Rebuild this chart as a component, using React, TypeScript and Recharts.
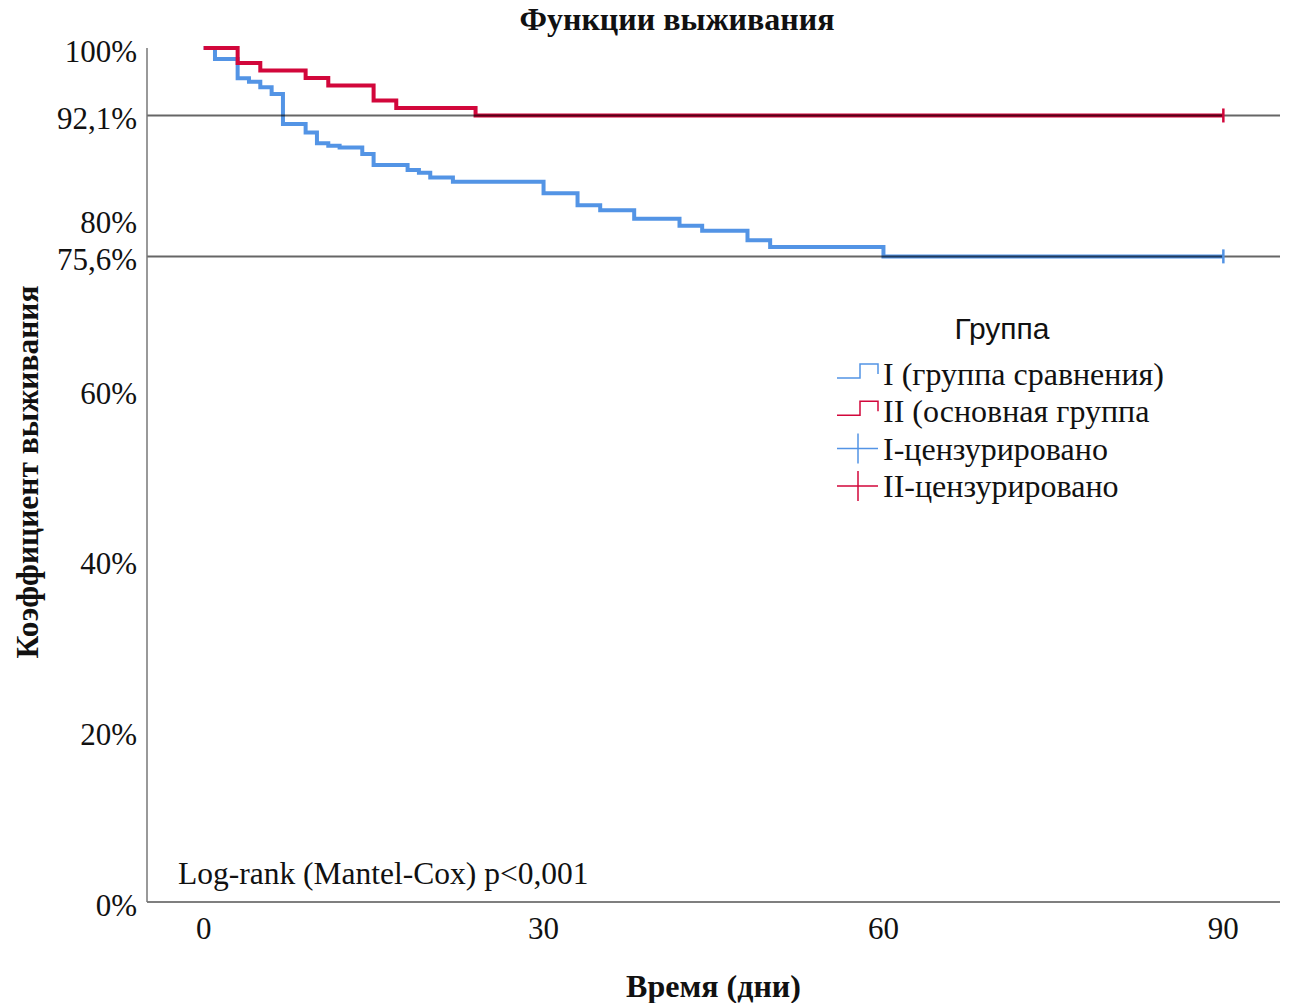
import {
  ComposedChart,
  Line,
  XAxis,
  YAxis,
  ReferenceLine,
  Legend,
} from "recharts";

// Kaplan–Meier steps, days vs. survival %
const daysI = [0, 1, 3, 4, 5, 6, 7, 9, 10, 11, 12, 14, 15, 18, 19, 20, 22, 30, 33, 35, 38, 42, 44, 48, 50, 60, 90];
const survI = [100, 98.7, 96.45, 96.05, 95.4, 94.6, 91.1, 90.1, 88.85, 88.55, 88.35, 87.6, 86.3, 85.7, 85.4, 84.85, 84.35, 83.0, 81.6, 81.0, 80.0, 79.2, 78.6, 77.5, 76.7, 75.6, 75.6];
const censorI = [90];

const daysII = [0, 3, 5, 9, 11, 15, 17, 24, 90];
const survII = [100, 98.25, 97.37, 96.49, 95.61, 93.86, 92.98, 92.1, 92.1];
const censorII = [90];

const finalRates = [92.1, 75.6];
const yTicks = [0, 20, 40, 60, 75.6, 80, 92.1, 100];
const xTicks = [0, 30, 60, 90];

const BLUE = "#5394e5";
const RED = "#d2073b";
const SERIF = "'Liberation Serif', 'Times New Roman', serif";
const SANS = "'Liberation Sans', Arial, sans-serif";

const toRows = (days: number[], surv: number[], censored: number[]) =>
  days.map((t, i) => ({ t, s: surv[i], c: censored.includes(t) && i === days.length - 1 }));

const groupI = toRows(daysI, survI, censorI);
const groupII = toRows(daysII, survII, censorII);

const pct = (v: number) => `${String(v).replace(".", ",")}%`;

function censorDot(color: string) {
  return (p: any) => {
    if (!p.payload || !p.payload.c) return <g key={`d${p.index}`} />;
    return (
      <line
        key={`d${p.index}`}
        x1={p.cx}
        x2={p.cx}
        y1={p.cy - 7}
        y2={p.cy + 7}
        stroke={color}
        strokeWidth={2.5}
      />
    );
  };
}

const legendRows = [
  { label: "I (группа сравнения)", color: BLUE, kind: "step" },
  { label: "II (основная группа", color: RED, kind: "step" },
  { label: "I-цензурировано", color: BLUE, kind: "cross" },
  { label: "II-цензурировано", color: RED, kind: "cross" },
];

function LegendBox() {
  return (
    <svg width={420} height={210}>
      <text x={172} y={28} textAnchor="middle" dominantBaseline="central" fontFamily={SANS} fontSize={30} fill="#111">
        Группа
      </text>
      {legendRows.map((r, i) => {
        const y = 74 + i * 37.3;
        const icon =
          r.kind === "step" ? (
            <path d={`M7,${y + 4} H30 V${y - 10} H48 V${y}`} fill="none" stroke={r.color} strokeWidth={1.5} />
          ) : (
            <path d={`M7,${y} H48 M28,${y - 15} V${y + 15}`} fill="none" stroke={r.color} strokeWidth={1.5} />
          );
        return (
          <g key={r.label}>
            {icon}
            <text x={53} y={y} dominantBaseline="central" fontFamily={SERIF} fontSize={32} fill="#111">
              {r.label}
            </text>
          </g>
        );
      })}
    </svg>
  );
}

export default function App() {
  return (
    <div style={{ position: "absolute", left: 0, top: 0, background: "#fff" }}>
      <ComposedChart width={1293} height={1003} margin={{ top: 48, right: 13, bottom: 0, left: 0 }}>
        <XAxis
          dataKey="t"
          type="number"
          domain={[-5, 95]}
          ticks={xTicks}
          interval={0}
          height={101}
          tickLine={false}
          tickSize={15}
          tickMargin={0}
          stroke="#555"
          strokeWidth={1.5}
          tick={{ fontFamily: SERIF, fontSize: 31, fill: "#111" }}
          label={{
            value: "Время (дни)",
            position: "insideBottom",
            offset: 6,
            style: { fontFamily: SERIF, fontSize: 32, fontWeight: "bold", fill: "#111" },
          }}
        />
        <YAxis
          type="number"
          domain={[0, 100]}
          ticks={yTicks}
          interval={0}
          width={147}
          tickLine={false}
          tickSize={10}
          tickMargin={0}
          stroke="#777"
          strokeWidth={1.5}
          tickFormatter={pct}
          tick={{ fontFamily: SERIF, fontSize: 31, fill: "#111", dy: 3 }}
          label={{
            content: () => (
              <text
                x={38}
                y={472}
                transform="rotate(-90 38 472)"
                textAnchor="middle"
                fontFamily={SERIF}
                fontSize={31.5}
                fontWeight="bold"
                fill="#111"
              >
                Коэффициент выживания
              </text>
            ),
          }}
        />
        <Legend
          layout="horizontal"
          verticalAlign="middle"
          align="center"
          wrapperStyle={{ position: "absolute", left: 830, top: 300, width: 420 }}
          content={() => <LegendBox />}
        />
        <Line
          data={groupI}
          dataKey="s"
          type="stepAfter"
          stroke={BLUE}
          strokeWidth={4}
          dot={censorDot(BLUE)}
          activeDot={false}
          isAnimationActive={false}
        />
        <Line
          data={groupII}
          dataKey="s"
          type="stepAfter"
          stroke={RED}
          strokeWidth={4}
          dot={censorDot(RED)}
          activeDot={false}
          isAnimationActive={false}
        />
        {finalRates.map((v) => (
          <ReferenceLine key={v} y={v} stroke="#000" strokeOpacity={0.6} strokeWidth={2} />
        ))}
        <text x={677} y={30} textAnchor="middle" fontFamily={SERIF} fontSize={32} fontWeight="bold" fill="#111">
          Функции выживания
        </text>
        <text x={178} y={884} fontFamily={SERIF} fontSize={31.5} fill="#111">
          Log-rank (Mantel-Cox) p&lt;0,001
        </text>
      </ComposedChart>
    </div>
  );
}
